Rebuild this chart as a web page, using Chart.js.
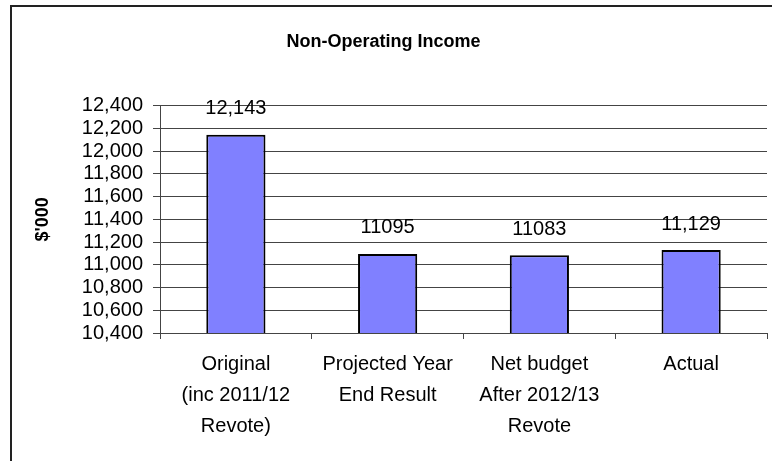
<!DOCTYPE html>
<html>
<head>
<meta charset="utf-8">
<title>Non-Operating Income</title>
<script src="https://cdn.jsdelivr.net/npm/chart.js@4.4.0/dist/chart.umd.min.js"></script>
<style>
  html, body { margin: 0; padding: 0; background: #fff; overflow: hidden; }
  #wrap { position: relative; width: 772px; height: 461px; }
  #income-chart { position: absolute; left: 0; top: 0; }
  /* the chart frame, only left and top edges are visible in the crop */
  #frame {
    position: absolute; left: 10px; top: 5px; width: 800px; height: 500px;
    border-left: 2px solid #222; border-top: 2px solid #222;
  }
</style>
</head>
<body>
<div id="wrap">
  <div id="frame"></div>
  <canvas id="income-chart" width="772" height="461"></canvas>
</div>
<script>
// Data
const categories = [
  ['Original', '(inc 2011/12', 'Revote)'],
  ['Projected Year', 'End Result'],
  ['Net budget', 'After 2012/13', 'Revote'],
  ['Actual']
];
const incomeValues = [12143, 11095, 11083, 11129];
const valueLabels = ['12,143', '11095', '11083', '11,129'];
const yTicks = { min: 10400, max: 12400, step: 200 };

const font = 'Liberation Sans, Arial, sans-serif';

// Value labels above bars
const barLabels = {
  id: 'barLabels',
  afterDatasetsDraw(chart) {
    const ctx = chart.ctx;
    const meta = chart.getDatasetMeta(0);
    ctx.save();
    ctx.font = '20px ' + font;
    ctx.fillStyle = '#000';
    ctx.textAlign = 'center';
    ctx.textBaseline = 'middle';
    meta.data.forEach((bar, i) => {
      ctx.fillText(valueLabels[i], bar.x, bar.y - 26);
    });
    ctx.restore();
  }
};

const incomeChart = document.getElementById('income-chart');

let incomeBar = new Chart(incomeChart, {
  type: 'bar',
  data: {
    labels: categories,
    datasets: [{
      label: 'Non-Operating Income',
      data: incomeValues,
      backgroundColor: '#8080ff',
      borderColor: '#000',
      borderWidth: 2,
      borderSkipped: false,
      categoryPercentage: 1,
      barPercentage: 0.39
    }]
  },
  options: {
    responsive: false,
    animation: false,
    layout: {
      padding: { left: 0, right: 5, top: 0, bottom: 0 }
    },
    plugins: {
      legend: { display: false },
      tooltip: { enabled: false },
      title: {
        display: true,
        text: 'Non-Operating Income',
        color: '#000',
        font: { family: font, size: 18, weight: 'bold' },
        padding: { top: 31, bottom: 53 }
      }
    },
    scales: {
      x: {
        grid: {
          drawOnChartArea: false,
          drawTicks: true,
          tickLength: 6,
          color: '#444'
        },
        border: { color: '#444', width: 1 },
        ticks: {
          color: '#000',
          padding: 10,
          maxRotation: 0,
          autoSkip: false,
          font: { family: font, size: 20, lineHeight: 1.55 }
        },
        afterFit(scale) { scale.height = 128; }
      },
      y: {
        min: yTicks.min,
        max: yTicks.max,
        grid: { color: '#444', tickLength: 7 },
        border: { color: '#444', width: 1 },
        ticks: {
          stepSize: yTicks.step,
          autoSkip: false,
          color: '#000',
          padding: 10,
          font: { family: font, size: 20 },
          callback: (v) => v.toLocaleString('en-US')
        },
        title: {
          display: true,
          text: "$'000",
          color: '#000',
          font: { family: font, size: 18, weight: 'bold' },
          padding: { top: 32, bottom: 0 }
        },
        afterFit(scale) { scale.width = 160; }
      }
    }
  },
  plugins: [barLabels]
});
</script>
</body>
</html>
